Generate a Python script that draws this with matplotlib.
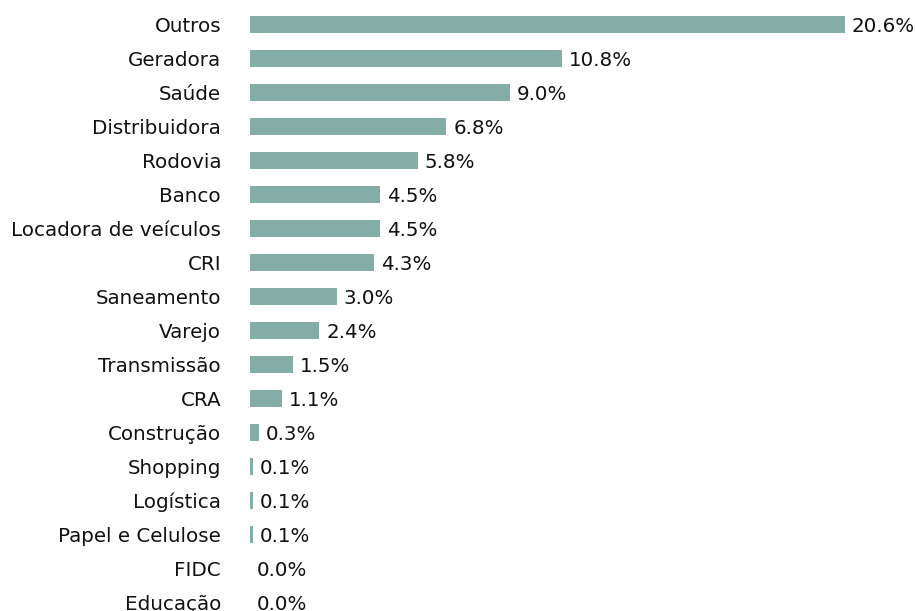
import matplotlib
matplotlib.use("Agg")
import matplotlib.pyplot as plt

categories = ["Outros", "Geradora", "Saúde", "Distribuidora", "Rodovia", "Banco",
              "Locadora de veículos", "CRI", "Saneamento", "Varejo", "Transmissão",
              "CRA", "Construção", "Shopping", "Logística", "Papel e Celulose",
              "FIDC", "Educação"]
values = [20.6, 10.8, 9.0, 6.8, 5.8, 4.5, 4.5, 4.3, 3.0, 2.4, 1.5, 1.1, 0.3,
          0.1, 0.1, 0.1, 0.0, 0.0]
labels = [f"{v:.1f}%" for v in values]

W, H = 915, 611
fig = plt.figure(figsize=(W / 100, H / 100), dpi=100)
left_px, right_px = 250, 845
ax = fig.add_axes([left_px / W, 0, (right_px - left_px) / W, 1])

color = "#84ada8"
pos = list(range(len(categories)))
ax.barh(pos, values, height=0.5, color=color)
ax.set_xlim(0, 20.6)
# row centres at y = 24 + 34*i px
ax.set_ylim((H - 24) / 34, -24 / 34)
ax.set_yticks(pos)
ax.set_yticklabels(categories, fontsize=14.3, color="#111111")
ax.tick_params(axis="y", length=0, pad=20.8)
ax.set_xticks([])
for s in ax.spines.values():
    s.set_visible(False)

for i, (v, lab) in enumerate(zip(values, labels)):
    ax.text(v + 0.24, i + 0.06, lab, va="center", ha="left", fontsize=14.3,
            color="#111111", clip_on=False)

fig.savefig("out.png", dpi=100)
